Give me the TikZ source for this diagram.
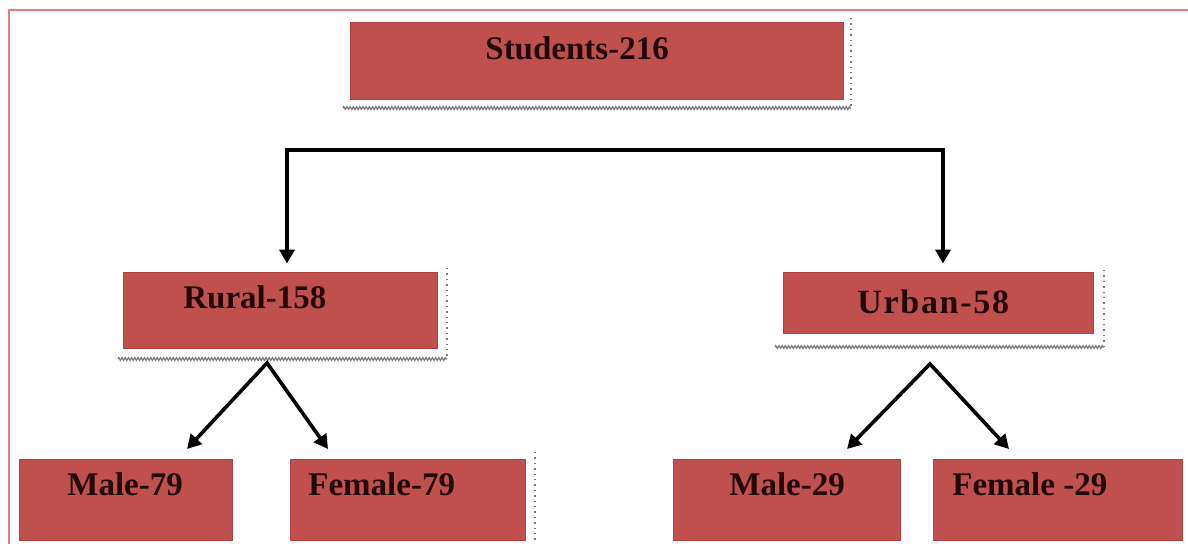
\documentclass[tikz,border=0pt]{standalone}
\usepackage{fontspec}
\setmainfont{Liberation Serif}
\newfontfamily\urbfont[LetterSpace=5]{Liberation Serif}
\usetikzlibrary{arrows.meta,fit,decorations.pathmorphing}
\definecolor{boxred}{RGB}{192,80,77}
\definecolor{boxedge}{RGB}{178,66,64}
\definecolor{txtcol}{RGB}{35,8,8}
\definecolor{framecol}{RGB}{226,128,128}
\definecolor{shadowgray}{RGB}{120,120,120}
\begin{document}
\begin{tikzpicture}[x=0.5pt,y=-0.5pt,
  rbox/.style={rectangle, fill=boxred, draw=boxedge, line width=0.4pt, inner sep=0pt},
  lbl/.style={anchor=base west, inner sep=0pt, text=txtcol, font=\bfseries\fontsize{16.5}{19}\selectfont},
  conn/.style={line width=1.8pt, black, line join=miter},
  tip/.style={conn, {Triangle[width=7.5pt,length=7pt]}-{Triangle[width=7.5pt,length=7pt]}},
  shadz/.style={color=shadowgray, line width=0.6pt, decorate, decoration={zigzag, amplitude=0.7pt, segment length=1.6pt}},
  shadd/.style={color=shadowgray, line width=0.7pt, dotted}]
\useasboundingbox (0,0) rectangle (1188,544);
% page frame
\draw[framecol, line width=1pt] (9,544) -- (9,10) -- (1188,10);
% shadows
\draw[shadd] (851,18) -- (851,108);
\draw[shadz] (343,108) -- (851,108);
\draw[shadd] (447,268) -- (447,359);
\draw[shadz] (118,359) -- (447,359);
\draw[shadd] (1104,270) -- (1104,347);
\draw[shadz] (775,347) -- (1104,347);
\draw[shadd] (535,452) -- (535,544);
% boxes
\node[rbox, fit={(350,22)(843,99)}] (stu) {};
\node[rbox, fit={(123,272)(437,348)}] (rur) {};
\node[rbox, fit={(783,272)(1093,333)}] (urb) {};
\node[rbox, fit={(19,459)(232,540)}] (m79) {};
\node[rbox, fit={(290,459)(525,540)}] (f79) {};
\node[rbox, fit={(673,459)(900,540)}] (m29) {};
\node[rbox, fit={(933,459)(1182,540)}] (f29) {};
% labels
\node[lbl] (stut) at (485,60) {Students-216};
\node[lbl] (rurt) at (183,309) {Rural-158};
\node[lbl, font=\urbfont\bfseries\fontsize{17}{20}\selectfont] (urbt) at (857,314) {Urban-58};
\node[lbl] (m79t) at (67,496) {Male-79};
\node[lbl] (f79t) at (308,496) {Female-79};
\node[lbl] (m29t) at (729,496) {Male-29};
\node[lbl] (f29t) at (952,496) {Female -29};
% connectors
\coordinate (tl) at (287,150);
\coordinate (tr) at (943,150);
\draw[tip, shorten <=4pt, shorten >=4pt] (tl |- rur.north) -- (tl) -- (tr) -- (tr |- urb.north);
\coordinate (ra) at (267,363);
\coordinate (rl) at (187,449);
\coordinate (rr) at (328,449);
\draw[tip] (rl) -- (ra) -- (rr);
\coordinate (ua) at (930,364);
\coordinate (ul) at (847,449);
\coordinate (ur) at (1009,449);
\draw[tip] (ul) -- (ua) -- (ur);
\end{tikzpicture}
\end{document}
